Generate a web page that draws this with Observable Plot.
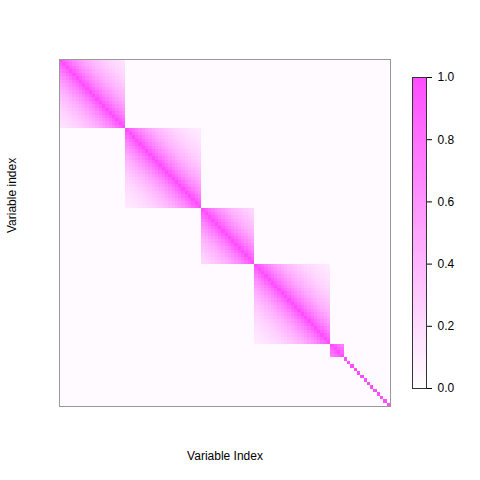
<!DOCTYPE html>
<html>
<head>
<meta charset="utf-8">
<script src="https://cdn.jsdelivr.net/npm/d3@7"></script>
<script src="https://cdn.jsdelivr.net/npm/@observablehq/plot@0.6"></script>
<style>
  html, body { margin: 0; padding: 0; background: #fff; }
  #wrap { position: relative; width: 480px; height: 480px; font-family: "Liberation Sans", Arial, sans-serif; }
  #wrap svg { position: absolute; top: 0; }
</style>
</head>
<body>
<div id="wrap"></div>
<script>
// Block sizes along the diagonal (variables 1..100)
const blockSizes = [20, 23, 16, 23, 4, 1, 1, 1, 1, 1, 1, 1, 1, 1, 1, 1, 1, 1, 1];
const lagCorr = [1.00, 0.90, 0.82, 0.74, 0.67, 0.61, 0.55, 0.50, 0.45, 0.41, 0.37,
                 0.34, 0.31, 0.28, 0.25, 0.23, 0.21, 0.19, 0.17, 0.16, 0.14, 0.13, 0.12];
// Value between blocks (faint background tint)
const offBlockValue = 0.03;
const colorbarTicks = [0, 0.2, 0.4, 0.6, 0.8, 1.0];
const xLabel = "Variable Index";
const yLabel = "Variable index";

// Build the matrix table
const blockOf = [];
blockSizes.forEach((s, b) => { for (let k = 0; k < s; k++) blockOf.push(b); });
const n = blockOf.length;
const idx = d3.range(1, n + 1);
const cells = [];
for (let i = 0; i < n; i++) {
  for (let j = 0; j < n; j++) {
    const v = blockOf[i] === blockOf[j] ? lagCorr[Math.abs(i - j)] : offBlockValue;
    cells.push({row: i + 1, col: j + 1, value: v});
  }
}

const colorScale = {type: "linear", domain: [0, 1], range: ["#ffffff", "#ff4dff"]};
const font = "Liberation Sans, Arial, sans-serif";

const main = Plot.plot({
  width: 480,
  height: 480,
  marginLeft: 59,
  marginRight: 90,
  marginTop: 59,
  marginBottom: 74,
  style: {fontFamily: font, fontSize: "12px", background: "transparent"},
  x: {domain: idx, axis: null, padding: 0},
  y: {domain: idx, axis: null, padding: 0},
  color: colorScale,
  marks: [
    Plot.cell(cells, {x: "col", y: "row", fill: "value", inset: 0, shapeRendering: "crispEdges"}),
    Plot.frame({stroke: "#999999", strokeWidth: 1}),
    Plot.text([xLabel], {frameAnchor: "bottom", dy: 53, text: d => d, fontSize: 12, fill: "#000"}),
    Plot.text([yLabel], {frameAnchor: "left", dx: -47, rotate: -90, text: d => d, fontSize: 12, fill: "#000"})
  ]
});

const steps = d3.range(0, 200).map(k => ({y1: k / 200, y2: (k + 1) / 200, v: (k + 0.5) / 200}));
const bar = Plot.plot({
  width: 68,
  height: 480,
  marginLeft: 0,
  marginRight: 54,
  marginTop: 77,
  marginBottom: 92,
  style: {fontFamily: font, fontSize: "12px", background: "transparent"},
  x: {domain: [0, 1], axis: null},
  y: {domain: [0, 1], axis: "right", ticks: colorbarTicks, tickFormat: d3.format(".1f"), tickSize: 5, tickPadding: 6, label: null},
  color: colorScale,
  marks: [
    Plot.rect(steps, {x1: 0, x2: 1, y1: "y1", y2: "y2", fill: "v", stroke: "v", strokeWidth: 0.6, shapeRendering: "crispEdges"}),
    Plot.frame({stroke: "#333", strokeWidth: 1})
  ]
});
bar.style.left = "412px";

const wrap = document.getElementById("wrap");
main.style.left = "0px";
wrap.appendChild(main);
wrap.appendChild(bar);
</script>
</body>
</html>
